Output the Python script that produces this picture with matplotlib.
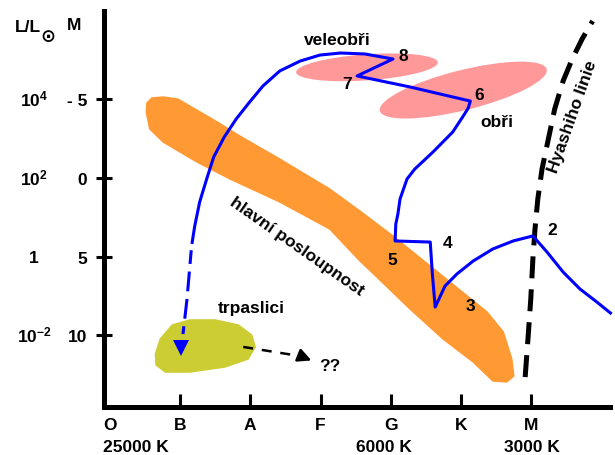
"""Schematic Hertzsprung-Russell diagram with a stellar evolution track (Czech labels)."""
import matplotlib

matplotlib.use("Agg")
import matplotlib.pyplot as plt
from matplotlib.patches import Ellipse, Polygon
from matplotlib.transforms import ScaledTranslation

plt.rcParams.update(
    {
        "font.family": ["Liberation Sans", "DejaVu Sans"],
        "font.weight": "bold",
        "font.size": 12,
        "mathtext.fontset": "custom",
        "mathtext.rm": "Liberation Sans:bold",
        "mathtext.bf": "Liberation Sans:bold",
        "mathtext.it": "Liberation Sans:bold",
        "mathtext.default": "rm",
    }
)

ORANGE = "#ff9933"
PINK = "#ff9999"
OLIVE = "#cccc33"
BLUE = "#0000ff"

# x: spectral class index (O=0 ... M=6), y: absolute magnitude M
SPECTRAL_CLASSES = ["O", "B", "A", "F", "G", "K", "M"]
MAG_TICKS = [-5, 0, 5, 10]
MAG_LABELS = ["- 5", "0", "5", "10"]
LUM_LABELS = [r"$10^{4}$", r"$10^{2}$", "1", r"$10^{-2}$"]
TEMP_LABELS = ["25000 K", "6000 K", "3000 K"]
TEMP_CLASS = [-0.09, 3.9, 6.0]
TEMP_ALIGN = ["left", "center", "center"]

# main sequence band outline
MS_S = [0.52, 0.53, 0.60, 0.76, 0.97, 1.14, 1.53, 1.85, 2.42, 3.13, 3.56, 4.03, 4.84,
        5.37, 5.60, 5.72, 5.75, 5.65, 5.45, 5.17, 4.74, 4.27, 3.80, 3.56, 3.13, 2.42,
        1.71, 1.24, 0.76, 0.57]
MS_M = [-4.20, -4.78, -5.10, -5.16, -5.03, -4.59, -3.57, -2.68, -1.21, 0.70, 2.10, 3.69,
        6.62, 8.54, 9.81, 11.53, 12.61, 12.99, 12.93, 11.72, 10.25, 8.34, 6.31, 5.29,
        3.25, 1.53, 0.06, -1.02, -2.29, -3.12]

# white dwarf region outline
WD_S = [0.72, 0.89, 1.14, 1.50, 1.83, 2.02, 2.07, 1.97, 1.64, 1.14, 0.79, 0.66, 0.65]
WD_M = [10.25, 9.36, 9.04, 9.04, 9.36, 10.0, 10.76, 11.53, 12.04, 12.36, 12.36, 11.91, 11.21]

# giant regions: (centre class, centre magnitude, length px, thickness px, tilt deg)
SUPERGIANT = (3.66, -7.05, 142, 26, 4)
GIANT = (5.03, -5.6, 172, 40, 14)

# Hayashi line
HY_S = [5.91, 5.95, 5.99, 6.02, 6.05, 6.09, 6.15, 6.24, 6.33, 6.45, 6.58, 6.72, 6.87]
HY_M = [12.68, 10.25, 7.71, 5.16, 3.25, 1.34, -0.57, -2.48, -4.39, -6.18, -7.58, -8.85, -10.0]

# evolution track (solid part), from the right end through stages 2..8
TRACK_S = [7.14, 6.93, 6.69, 6.45, 6.22, 6.02, 5.74, 5.45, 5.17, 4.94, 4.77, 4.63,
           4.59, 4.56, 4.06, 4.07, 4.10, 4.13, 4.23, 4.34, 4.60, 4.88, 5.03, 5.10, 5.13,
           4.27, 3.52, 4.03, 3.63, 3.28, 2.99, 2.71, 2.42, 2.18, 1.98, 1.80, 1.63, 1.48,
           1.38, 1.28, 1.21, 1.17]
TRACK_M = [8.66, 7.90, 7.07, 5.99, 4.71, 3.69, 4.01, 4.52, 5.29, 6.11, 6.88, 8.22,
           6.11, 4.08, 4.01, 2.93, 2.29, 1.34, 0.06, -0.57, -1.66, -2.93, -3.95, -4.45,
           -4.90, -5.80, -6.50, -7.58, -7.90, -7.96, -7.83, -7.45, -6.82, -5.86, -4.78,
           -3.76, -2.61, -1.34, 0.06, 1.53, 3.06, 4.20]
# dashed descent to the white dwarf region
DESCENT_S = [1.16, 1.10, 1.043]
DESCENT_M = [4.6, 7.71, 9.94]
DESCENT_TIP = (1.02, 10.8)
# white dwarf cooling arrow
COOL_S = [1.90, 2.72]
COOL_M = [10.76, 11.35]
COOL_TIP = (2.87, 11.62)

STAGES = ["2", "3", "4", "5", "6", "7", "8"]
STAGE_S = [6.29, 5.125, 4.80, 4.02, 5.25, 3.375, 4.17]
STAGE_M = [3.31, 8.15, 4.08, 5.16, -5.29, -6.05, -7.83]


def giant_blob(fig, ax, spec, zorder=1):
    cs, cm, length, thick, tilt = spec
    offset = ScaledTranslation(cs, cm, ax.transData)
    ell = Ellipse((0, 0), length / fig.dpi, thick / fig.dpi, angle=tilt,
                  transform=fig.dpi_scale_trans + offset, facecolor=PINK,
                  edgecolor="none", zorder=zorder)
    ax.add_patch(ell)


def main():
    fig = plt.figure(figsize=(6.15, 4.56), dpi=100)
    ax = fig.add_axes([0, 0, 1, 1])
    ax.set_xlim(-1.56, 7.188)
    ax.set_ylim(17.643, -11.401)
    ax.patch.set_visible(False)

    # axes frame
    for side in ("top", "right"):
        ax.spines[side].set_visible(False)
    ax.spines["left"].set_position(("data", -0.08))
    ax.spines["left"].set_bounds(14.59, -10.64)
    ax.spines["bottom"].set_position(("data", 14.59))
    ax.spines["bottom"].set_bounds(-0.08, 7.12)
    for side in ("left", "bottom"):
        ax.spines[side].set_linewidth(3.6)
        ax.spines[side].set_capstyle("projecting")

    ax.set_yticks(MAG_TICKS)
    ax.set_yticklabels(MAG_LABELS)
    ax.tick_params(axis="y", direction="inout", length=11.5, width=2.2, pad=6.2,
                   labelsize=12.5)
    ax.set_xticks(range(len(SPECTRAL_CLASSES)))
    ax.set_xticklabels(SPECTRAL_CLASSES)
    ax.tick_params(axis="x", direction="in", length=9.5, width=2.2, pad=7,
                   labelsize=12.5)
    ax.xaxis.get_major_ticks()[0].tick1line.set_visible(False)
    for lab in ax.get_xticklabels() + ax.get_yticklabels():
        lab.set_fontweight("bold")

    # luminosity column and headers
    for mag, lab in zip(MAG_TICKS, LUM_LABELS):
        ax.text(-1.077, mag + 0.38, lab, ha="center", va="baseline", fontsize=12.5)
    ax.text(-1.162, -9.68, "L/L", ha="center", va="center", fontsize=12.5)
    ax.text(-0.875, -9.05, "\u2299", ha="center", va="center", fontsize=13,
            family="DejaVu Sans", fontweight="bold")
    ax.text(-0.51, -9.75, "M", ha="center", va="center", fontsize=12.5)
    for s, lab, al in zip(TEMP_CLASS, TEMP_LABELS, TEMP_ALIGN):
        ax.text(s, 17.07, lab, ha=al, va="center", fontsize=12.5)

    # regions
    ax.add_patch(Polygon(list(zip(MS_S, MS_M)), closed=True, facecolor=ORANGE,
                         edgecolor=ORANGE, linewidth=1.0, joinstyle="round", zorder=1))
    ax.add_patch(Polygon(list(zip(WD_S, WD_M)), closed=True, facecolor=OLIVE,
                         edgecolor=OLIVE, linewidth=1.0, joinstyle="round", zorder=1))
    giant_blob(fig, ax, SUPERGIANT)
    giant_blob(fig, ax, GIANT)

    # Hayashi line
    ax.plot(HY_S, HY_M, color="black", linewidth=3.6, linestyle=(0, (4.4, 2.2)),
            dash_capstyle="butt", zorder=3)

    # evolution track
    ax.plot(TRACK_S, TRACK_M, color=BLUE, linewidth=2.2, solid_joinstyle="round",
            solid_capstyle="butt", zorder=4)
    ax.plot(DESCENT_S, DESCENT_M, color=BLUE, linewidth=2.2, linestyle=(2.0, (6.5, 2.5)),
            zorder=4)
    ax.plot([DESCENT_TIP[0]], [DESCENT_TIP[1]], marker="v", markersize=12,
            color=BLUE, markeredgewidth=0, zorder=5)

    # cooling arrow
    ax.plot(COOL_S, COOL_M, color="black", linewidth=1.8, linestyle=(0, (4, 3.5)), zorder=4)
    ax.annotate("", xy=COOL_TIP, xytext=(COOL_S[-1], COOL_M[-1]),
                arrowprops=dict(arrowstyle="-|>", color="black", lw=1.8,
                                mutation_scale=20, shrinkA=0, shrinkB=0), zorder=5)
    ax.text(3.13, 11.97, "??", ha="center", va="center", fontsize=12.5)

    for s, m, lab in zip(STAGE_S, STAGE_M, STAGES):
        ax.text(s, m, lab, ha="center", va="center", fontsize=12.5, zorder=6)

    ax.text(3.235, -8.85, "veleobři", ha="center", va="center", fontsize=12.5)
    ax.text(5.51, -3.63, "obři", ha="center", va="center", fontsize=12.5)
    ax.text(2.01, 8.28, "trpaslici", ha="center", va="center", fontsize=12.5)
    ax.text(2.665, 4.33, "hlavní posloupnost", ha="center", va="center", fontsize=12.5,
            rotation=-35, rotation_mode="anchor")
    ax.text(6.59, -3.95, "Hyashiho linie", ha="center", va="center", fontsize=12.5,
            rotation=70.5, rotation_mode="anchor")

    fig.savefig("out.png", dpi=100)


if __name__ == "__main__":
    main()
